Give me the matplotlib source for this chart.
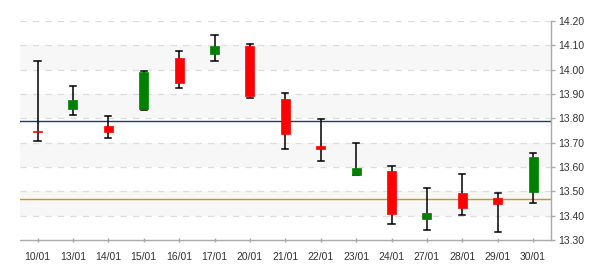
import matplotlib
matplotlib.use("Agg")
import matplotlib.pyplot as plt

dates = ["10/01", "13/01", "14/01", "15/01", "16/01", "17/01", "20/01", "21/01",
         "22/01", "23/01", "24/01", "27/01", "28/01", "29/01", "30/01"]
opens = [13.750, 13.840, 13.768, 13.840, 14.048, 14.066, 14.097, 13.879,
         13.686, 13.568, 13.583, 13.387, 13.493, 13.473, 13.498]
closes = [13.745, 13.875, 13.745, 13.990, 13.946, 14.096, 13.892, 13.735,
          13.676, 13.595, 13.407, 13.411, 13.433, 13.449, 13.641]
highs = [14.034, 13.932, 13.808, 13.994, 14.075, 14.141, 14.104, 13.903,
         13.796, 13.699, 13.603, 13.512, 13.570, 13.492, 13.656]
lows = [13.707, 13.812, 13.719, 13.833, 13.923, 14.034, 13.885, 13.673,
        13.623, 13.566, 13.364, 13.340, 13.401, 13.331, 13.453]
level_upper = 13.788
level_lower = 13.467
yticks = [13.30, 13.40, 13.50, 13.60, 13.70, 13.80, 13.90, 14.00, 14.10, 14.20]

plt.rcParams['font.family'] = ['Liberation Sans', 'DejaVu Sans']
fig = plt.figure(figsize=(6, 2.7), dpi=100)
ax = fig.add_axes([0.033, 0.111, 0.885, 0.811])

ymin, ymax = yticks[0], yticks[-1]
ax.set_xlim(-0.5, len(dates) - 0.5)
ax.set_ylim(ymin, ymax)

# alternating bands
for i in range(len(yticks) - 1):
    if i % 2 == 1:
        ax.axhspan(yticks[i], yticks[i + 1], color='#f7f7f7', zorder=0, lw=0)
for t in yticks[1:]:
    ax.axhline(t, color='#dddddd', lw=0.9, ls=(0, (5, 5)), zorder=1)

ax.axhline(level_upper, color='#1e3c6e', lw=1.0, zorder=2)
ax.axhline(level_lower, color='#cc9900', lw=1.0, zorder=2)

bw = 0.25
cw = 0.17
for i, (o, c, h, l) in enumerate(zip(opens, closes, highs, lows)):
    col = '#008000' if c >= o else '#ff0000'
    ax.plot([i, i], [l, h], color='black', lw=1.1, zorder=3, solid_capstyle='butt')
    ax.plot([i - cw / 2, i + cw / 2], [h, h], color='black', lw=1.1, zorder=3)
    ax.plot([i - cw / 2, i + cw / 2], [l, l], color='black', lw=1.1, zorder=3)
    bot = min(o, c)
    ht = max(abs(c - o), 0.004)
    ax.bar(i, ht, bottom=bot, width=bw, color=col, edgecolor=col, lw=0.5, zorder=4)

ax.yaxis.tick_right()
ax.set_yticks(yticks)
ax.set_yticklabels([f"{t:.2f}" for t in yticks])
ax.set_xticks(range(len(dates)))
ax.set_xticklabels(dates)
for s in ['top', 'left']:
    ax.spines[s].set_visible(False)
for s in ['right', 'bottom']:
    ax.spines[s].set_color('#aaaaaa')
    ax.spines[s].set_linewidth(1.0)
ax.tick_params(axis='y', colors='#aaaaaa', labelcolor='#333333', labelsize=7.5, length=3, width=1, pad=2)
ax.tick_params(axis='x', colors='#aaaaaa', labelcolor='#333333', labelsize=7.5, length=3, width=1, pad=7, direction='inout')

fig.savefig("out.png", dpi=100)
